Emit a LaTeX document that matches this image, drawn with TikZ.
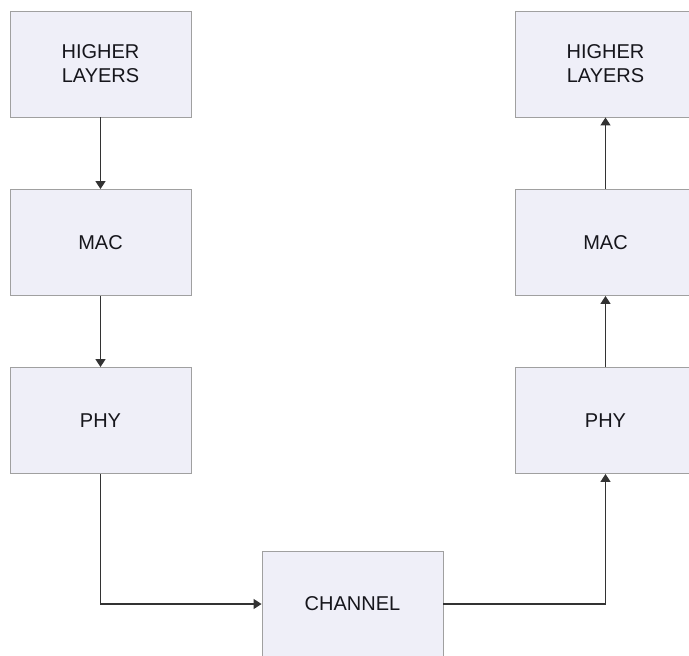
\documentclass[tikz,border=0pt]{standalone}
\usepackage{fontspec}
\setmainfont{Liberation Sans}
\usetikzlibrary{arrows.meta}
\definecolor{boxfill}{HTML}{EFEFF8}
\definecolor{boxline}{HTML}{A0A0A0}
\definecolor{txt}{HTML}{16161C}
\definecolor{arr}{HTML}{333333}
\tikzset{
  layerbox/.style={draw=boxline, line width=0.9pt, fill=boxfill, minimum width=181pt, minimum height=106pt, inner sep=0pt, align=center, text=txt, font=\fontsize{20}{24}\selectfont},
  conn/.style={draw=arr, line width=1.4pt, -{Triangle[length=8pt,width=10pt]}}
}
\begin{document}
\begin{tikzpicture}[x=1pt,y=-1pt]
\useasboundingbox (0,0) rectangle (689,656);
\fill[white] (0,0) rectangle (689,656);
\node[layerbox] (hl1) at (100.5,64) {HIGHER\\LAYERS};
\node[layerbox] (mac1) at (100.5,242.5) {MAC};
\node[layerbox] (phy1) at (100.5,420.5) {PHY};
\node[layerbox] (hl2) at (605.5,64) {HIGHER\\LAYERS};
\node[layerbox] (mac2) at (605.5,242.5) {MAC};
\node[layerbox] (phy2) at (605.5,420.5) {PHY};
\node[layerbox] (ch) at (352.5,604) {CHANNEL};
\draw[conn] (hl1) -- (mac1);
\draw[conn] (mac1) -- (phy1);
\draw[conn] (phy1.south) |- (ch.west);
\draw[conn] (ch.east) -| (phy2.south);
\draw[conn] (phy2) -- (mac2);
\draw[conn] (mac2) -- (hl2);
\end{tikzpicture}
\end{document}
